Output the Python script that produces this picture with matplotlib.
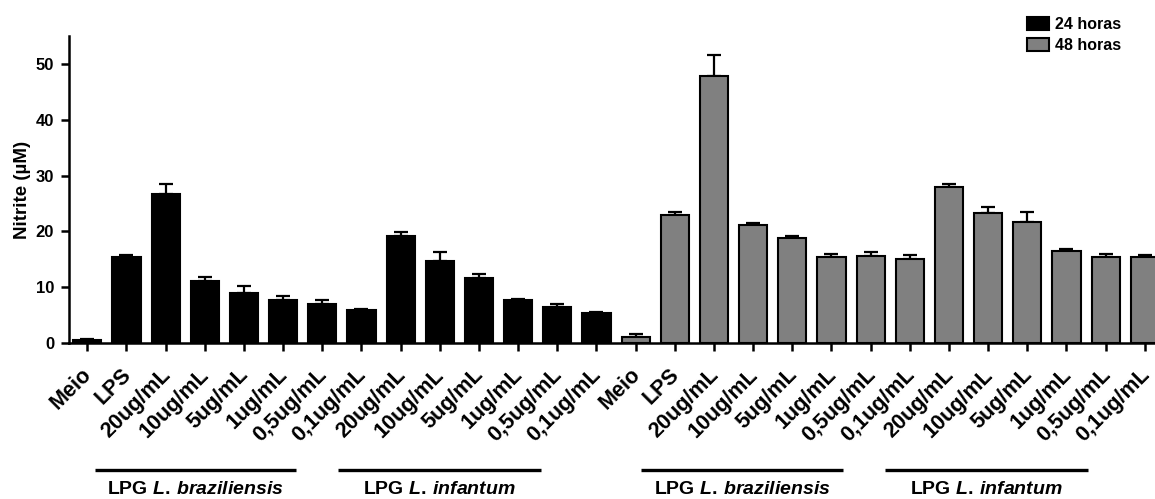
import matplotlib
matplotlib.use("Agg")
import matplotlib.pyplot as plt
import matplotlib.transforms as mtransforms
import numpy as np

# ---- data -------------------------------------------------------------
conditions = ["Meio", "LPS",
              "20ug/mL", "10ug/mL", "5ug/mL", "1ug/mL", "0,5ug/mL", "0,1ug/mL",
              "20ug/mL", "10ug/mL", "5ug/mL", "1ug/mL", "0,5ug/mL", "0,1ug/mL"]

nitrite_24h = [0.5, 15.3, 26.7, 11.1, 9.0, 7.7, 6.95, 5.87,
               19.2, 14.7, 11.55, 7.67, 6.47, 5.4]
sem_24h = [0.1, 0.4, 1.8, 0.75, 1.2, 0.7, 0.75, 0.1,
           0.7, 1.5, 0.75, 0.1, 0.4, 0.15]

nitrite_48h = [1.1, 22.9, 47.9, 21.1, 18.85, 15.3, 15.6, 15.1,
               27.9, 23.2, 21.6, 16.45, 15.45, 15.3]
sem_48h = [0.4, 0.6, 3.7, 0.4, 0.3, 0.6, 0.6, 0.6,
           0.65, 1.1, 1.9, 0.35, 0.45, 0.4]

series_labels = ["24 horas", "48 horas"]
series_colors = ["#000000", "#808080"]
group_labels = [r"LPG $L.\,braziliensis$", r"LPG $L.\,infantum$"]
y_ticks = [0, 10, 20, 30, 40, 50]

# ---- style ------------------------------------------------------------
plt.rcParams["font.family"] = ["Liberation Sans", "DejaVu Sans"]
plt.rcParams["font.weight"] = "bold"
plt.rcParams["mathtext.fontset"] = "custom"
plt.rcParams["mathtext.rm"] = "Liberation Sans:bold"
plt.rcParams["mathtext.it"] = "Liberation Sans:italic:bold"
plt.rcParams["mathtext.bf"] = "Liberation Sans:bold"

W, H = 1155, 499
fig = plt.figure(figsize=(W / 100, H / 100), dpi=100)
ax = fig.add_axes([69.3 / W, 1 - 342.7 / H, (W - 69.3) / W, (342.7 - 36.3) / H])

n = len(conditions)
x24 = np.arange(n)
x48 = np.arange(n) + n
bar_w = 0.72

for xs, vals, errs, col, lab in [(x24, nitrite_24h, sem_24h, series_colors[0], series_labels[0]),
                                 (x48, nitrite_48h, sem_48h, series_colors[1], series_labels[1])]:
    ax.bar(xs, vals, width=bar_w, color=col, edgecolor="black", linewidth=1.5,
           label=lab, zorder=2)
    ax.errorbar(xs, vals, yerr=[np.zeros(len(vals)), errs], fmt="none",
                ecolor="black", elinewidth=1.6, capsize=5, capthick=1.6, zorder=1)

ax.set_xlim(-0.46, 27.26)
ax.set_ylim(0, 55)
ax.set_yticks(y_ticks)
ax.set_xticks(np.arange(2 * n))
ax.set_xticklabels(conditions + conditions, rotation=45, ha="right", va="center",
                   rotation_mode="anchor", fontsize=15.5, fontweight="bold")
ax.tick_params(axis="y", labelsize=12, width=1.8, length=6, pad=5)
ax.tick_params(axis="x", width=1.8, length=6, pad=15)
for lab in ax.get_yticklabels():
    lab.set_fontweight("bold")
# nudge the rotated labels so their ends sit just right of the ticks
shift = mtransforms.ScaledTranslation(1.5 / 100, 0, fig.dpi_scale_trans)
for lab in ax.get_xticklabels():
    lab.set_transform(lab.get_transform() + shift)

for side in ("top", "right"):
    ax.spines[side].set_visible(False)
for side in ("left", "bottom"):
    ax.spines[side].set_linewidth(1.8)
ax.spines["bottom"].set_zorder(3)

ax.set_ylabel("Nitrite (µM)", fontsize=13.5, fontweight="bold", labelpad=3)

# group brackets under the rotated labels
trans = mtransforms.blended_transform_factory(ax.transData, fig.transFigure)
line_y = 1 - 470 / H
text_y = 1 - 489 / H
group_spans = [(0.2, 5.33), (6.4, 11.58), (14.14, 19.3), (20.36, 25.55)]
for i, (x0, x1) in enumerate(group_spans):
    ax.plot([x0, x1], [line_y, line_y], transform=trans, color="black",
            linewidth=2.4, clip_on=False, solid_capstyle="butt")
    ax.text((x0 + x1) / 2, text_y, group_labels[i % 2], transform=trans,
            ha="center", va="center", fontsize=14, fontweight="bold")

leg = fig.legend(loc="upper left", bbox_to_anchor=(1016 / W, 1 - 6 / H),
                 frameon=False, fontsize=11.5, handlelength=1.35, handleheight=0.85,
                 handletextpad=0.4, labelspacing=0.35, borderpad=0.2)
for t in leg.get_texts():
    t.set_fontweight("bold")

fig.savefig("out.png", dpi=100)
